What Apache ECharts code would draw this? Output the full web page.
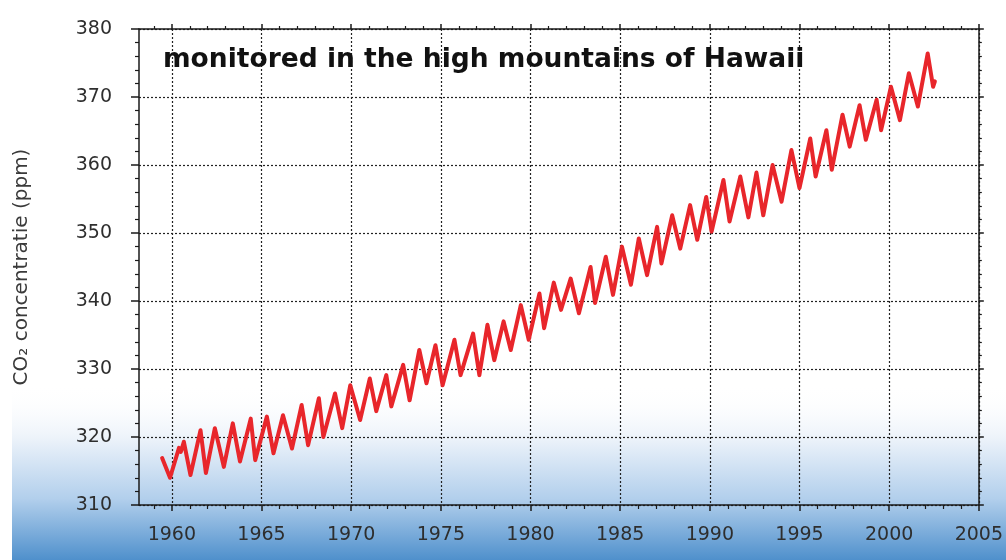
<!DOCTYPE html>
<html>
<head>
<meta charset="utf-8">
<script src="https://cdn.jsdelivr.net/npm/echarts@6/dist/echarts.min.js"></script>
<style>
html,body{margin:0;padding:0;background:#ffffff;}
#chart{width:1006px;height:560px;}
</style>
</head>
<body>
<div id="chart"></div>
<script>
// (year, CO2 ppm) at the turning points of the curve
const years = [
  1959.46, 1959.90, 1960.40, 1960.50, 1960.67, 1961.04, 1961.60, 1961.90, 1962.40, 1962.90,
  1963.40, 1963.80, 1964.40, 1964.65, 1965.30, 1965.67, 1966.20, 1966.70, 1967.24, 1967.60,
  1968.20, 1968.45, 1969.10, 1969.50, 1969.95, 1970.50, 1971.04, 1971.40, 1971.96, 1972.24,
  1972.90, 1973.26, 1973.80, 1974.20, 1974.70, 1975.10, 1975.76, 1976.10, 1976.80, 1977.15,
  1977.60, 1977.98, 1978.50, 1978.90, 1979.46, 1979.90, 1980.50, 1980.76, 1981.30, 1981.70,
  1982.24, 1982.70, 1983.35, 1983.60, 1984.20, 1984.60, 1985.10, 1985.60, 1986.04, 1986.50,
  1987.06, 1987.30, 1987.90, 1988.35, 1988.90, 1989.30, 1989.80, 1990.10, 1990.76, 1991.10,
  1991.70, 1992.15, 1992.60, 1992.98, 1993.50, 1994.00, 1994.55, 1995.00, 1995.60, 1995.90,
  1996.50, 1996.80, 1997.40, 1997.80, 1998.35, 1998.70, 1999.30, 1999.55, 2000.10, 2000.60,
  2001.10, 2001.60, 2002.15, 2002.45, 2002.55
];
const co2 = [
  316.9, 314.0, 318.4, 317.8, 319.3, 314.4, 321.0, 314.7, 321.3, 315.6,
  322.0, 316.4, 322.7, 316.6, 323.0, 317.6, 323.2, 318.3, 324.7, 318.8,
  325.7, 320.0, 326.4, 321.3, 327.6, 322.5, 328.6, 323.8, 329.1, 324.5,
  330.6, 325.4, 332.8, 327.9, 333.5, 327.6, 334.3, 329.1, 335.2, 329.1,
  336.5, 331.3, 337.0, 332.8, 339.4, 334.3, 341.1, 336.0, 342.7, 338.7,
  343.3, 338.2, 345.0, 339.7, 346.5, 340.9, 348.0, 342.4, 349.2, 343.8,
  350.9, 345.5, 352.6, 347.7, 354.1, 349.0, 355.3, 350.2, 357.8, 351.7,
  358.3, 352.3, 358.9, 352.6, 360.0, 354.6, 362.2, 356.6, 363.9, 358.3,
  365.1, 359.3, 367.4, 362.7, 368.8, 363.7, 369.6, 365.1, 371.5, 366.6,
  373.5, 368.6, 376.4, 371.5, 372.3
];
const xTickYears = [1960, 1965, 1970, 1975, 1980, 1985, 1990, 1995, 2000, 2005];
const xMinorYears = [
  1959, 1961, 1962, 1963, 1964, 1966, 1967, 1968, 1969, 1971, 1972, 1973, 1974,
  1976, 1977, 1978, 1979, 1981, 1982, 1983, 1984, 1986, 1987, 1988, 1989,
  1991, 1992, 1993, 1994, 1996, 1997, 1998, 1999, 2001, 2002, 2003, 2004
];
const yTicks = [310, 320, 330, 340, 350, 360, 370, 380];
const titleText = 'monitored in the high mountains of Hawaii';
const yName = 'CO\u2082 concentratie (ppm)';

const xMin = 1958.17, xMax = 2005;
const seriesData = years.map((y, i) => [y, co2[i]]);

const axisBlack = '#1a1a1a';
const gridDots = { color: '#222222', width: 1.2, type: [2, 2] };
const labelFont = { fontFamily: 'DejaVu Sans', fontSize: 19, color: '#2e2e2e' };

const chart = echarts.init(document.getElementById('chart'), null, { renderer: 'canvas' });
chart.setOption({
  backgroundColor: '#ffffff',
  animation: false,
  grid: { left: 139, right: 22, top: 29, bottom: 55, containLabel: false },
  graphic: [
    {
      type: 'rect', z: -10, silent: true,
      shape: { x: 12, y: 385, width: 994, height: 175 },
      style: {
        fill: new echarts.graphic.LinearGradient(0, 0, 0, 1, [
          { offset: 0, color: 'rgba(255,255,255,0)' },
          { offset: 0.3, color: '#edf3fa' },
          { offset: 0.65, color: '#b2cfec' },
          { offset: 1, color: '#4f90cc' }
        ])
      }
    },
    {
      type: 'text', left: 163, top: 47, z: 10,
      style: {
        text: titleText,
        font: 'bold 26.5px "DejaVu Sans", sans-serif',
        fill: '#111111'
      }
    }
  ],
  xAxis: [
    {
      type: 'value', position: 'bottom', min: xMin, max: xMax,
      axisLine: { show: true, onZero: false, lineStyle: { color: axisBlack, width: 1.5 } },
      axisTick: { show: true, inside: false, length: 6, customValues: xTickYears, lineStyle: { color: axisBlack, width: 1.5 } },
      axisLabel: Object.assign({ show: true, margin: 21, customValues: xTickYears, formatter: v => String(v) }, labelFont),
      splitLine: { show: true, lineStyle: gridDots }
    },
    {
      type: 'value', position: 'bottom', min: xMin, max: xMax,
      axisLine: { show: false },
      axisTick: { show: true, length: 4, customValues: xMinorYears, lineStyle: { color: axisBlack, width: 1.2 } },
      axisLabel: { show: false },
      splitLine: { show: false }
    },
    {
      type: 'value', position: 'top', min: xMin, max: xMax,
      axisLine: { show: true, onZero: false, lineStyle: { color: axisBlack, width: 1.5 } },
      axisTick: { show: true, length: 5, customValues: xTickYears, lineStyle: { color: axisBlack, width: 1.5 } },
      axisLabel: { show: false },
      splitLine: { show: false }
    },
    {
      type: 'value', position: 'top', min: xMin, max: xMax,
      axisLine: { show: false },
      axisTick: { show: true, length: 3, customValues: xMinorYears, lineStyle: { color: axisBlack, width: 1.2 } },
      axisLabel: { show: false },
      splitLine: { show: false }
    }
  ],
  yAxis: [
    {
      type: 'value', position: 'left', min: 310, max: 380, interval: 10,
      name: yName, nameLocation: 'middle', nameGap: 107, nameRotate: 90,
      nameTextStyle: { fontFamily: 'DejaVu Sans', fontSize: 20, color: '#3a3a3a' },
      axisLine: { show: true, onZero: false, lineStyle: { color: axisBlack, width: 1.5 } },
      axisTick: { show: true, length: 8, lineStyle: { color: axisBlack, width: 1.5 } },
      minorTick: { show: true, splitNumber: 5, length: 4, lineStyle: { color: axisBlack, width: 1.2 } },
      axisLabel: Object.assign({ show: true, margin: 27, formatter: v => String(v) }, labelFont),
      splitLine: { show: true, lineStyle: gridDots }
    },
    {
      type: 'value', position: 'right', min: 310, max: 380, interval: 10,
      axisLine: { show: true, onZero: false, lineStyle: { color: axisBlack, width: 1.5 } },
      axisTick: { show: true, length: 5, lineStyle: { color: axisBlack, width: 1.5 } },
      minorTick: { show: true, splitNumber: 5, length: 3, lineStyle: { color: axisBlack, width: 1.2 } },
      axisLabel: { show: false },
      splitLine: { show: false }
    }
  ],
  series: [
    {
      type: 'line', xAxisIndex: 0, yAxisIndex: 0,
      data: seriesData,
      showSymbol: false, symbol: 'none',
      lineStyle: { color: '#e8262b', width: 4, join: 'round', cap: 'round' },
      z: 5
    }
  ]
});
</script>
</body>
</html>
